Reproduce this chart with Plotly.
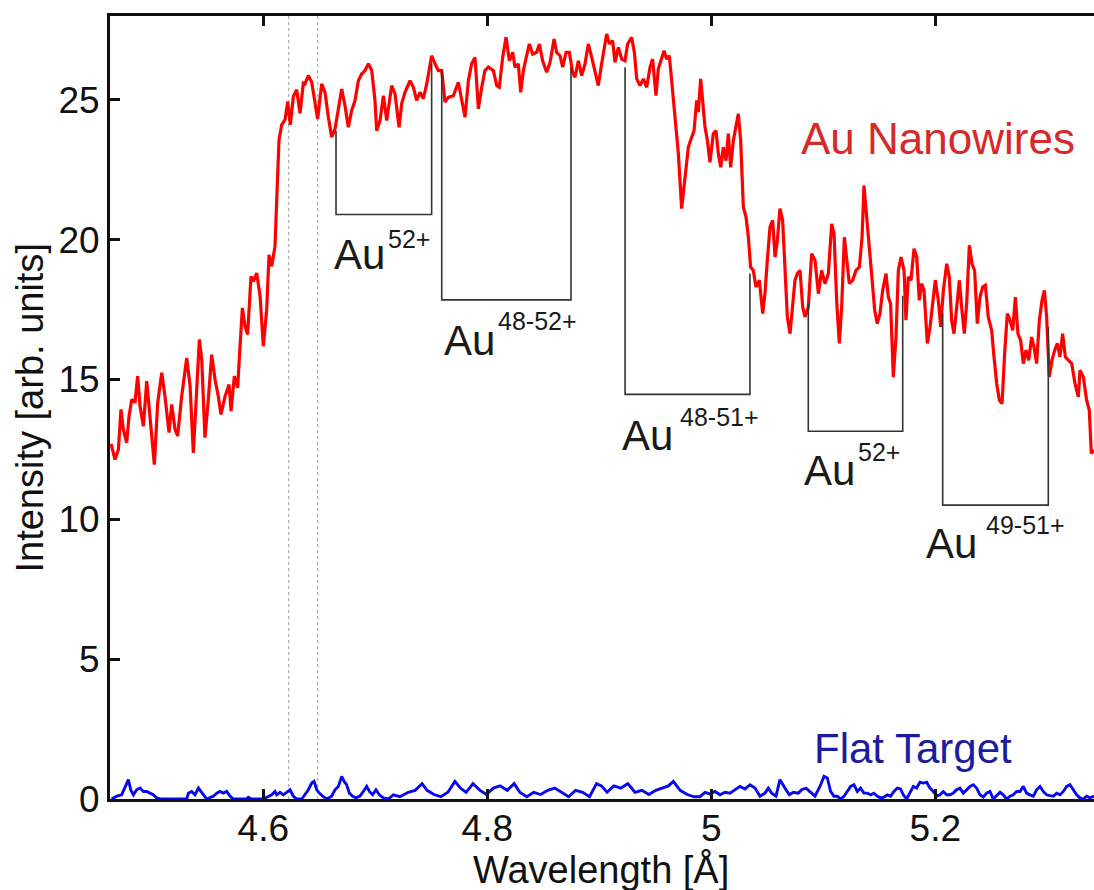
import plotly.graph_objects as go

# ---------------- data ----------------
wavelength_nw = [
    4.4640, 4.4676, 4.4706, 4.4729, 4.4750, 4.4780, 4.4801, 4.4825, 4.4854, 4.4878,
    4.4899, 4.4929, 4.4959, 4.4988, 4.5027, 4.5057, 4.5093, 4.5122, 4.5158, 4.5182,
    4.5212, 4.5235, 4.5271, 4.5316, 4.5346, 4.5375, 4.5405, 4.5429, 4.5450, 4.5479,
    4.5509, 4.5539, 4.5569, 4.5598, 4.5622, 4.5658, 4.5694, 4.5712, 4.5741, 4.5771,
    4.5792, 4.5813, 4.5837, 4.5860, 4.5890, 4.5911, 4.5941, 4.5971, 4.6000, 4.6030,
    4.6051, 4.6075, 4.6104, 4.6119, 4.6140, 4.6164, 4.6194, 4.6218, 4.6241, 4.6268,
    4.6298, 4.6328, 4.6357,
    4.6372, 4.6402, 4.6432, 4.6462, 4.6485, 4.6521, 4.6551, 4.6581, 4.6610, 4.6640,
    4.6670, 4.6700, 4.6729, 4.6759, 4.6789, 4.6819, 4.6849, 4.6878, 4.6908, 4.6938,
    4.6968, 4.6997, 4.7012, 4.7042, 4.7072, 4.7102, 4.7146, 4.7176, 4.7212, 4.7235,
    4.7265, 4.7310, 4.7340, 4.7369, 4.7399, 4.7429, 4.7459, 4.7503, 4.7533, 4.7563,
    4.7593, 4.7622, 4.7652, 4.7697, 4.7741, 4.7771, 4.7801, 4.7831, 4.7860, 4.7890,
    4.7920, 4.7950, 4.7979, 4.8009, 4.8054,
    4.8084, 4.8107, 4.8137, 4.8167, 4.8197, 4.8227, 4.8247, 4.8277, 4.8298, 4.8322,
    4.8351, 4.8375, 4.8405, 4.8441, 4.8465, 4.8494, 4.8530, 4.8560, 4.8596, 4.8619,
    4.8649, 4.8673, 4.8703, 4.8732, 4.8762, 4.8783, 4.8813, 4.8843, 4.8872, 4.8902,
    4.8932, 4.8962, 4.8991, 4.9021, 4.9042, 4.9066, 4.9090, 4.9119, 4.9140, 4.9170,
    4.9200, 4.9229, 4.9253, 4.9289, 4.9313, 4.9334, 4.9363, 4.9393, 4.9423, 4.9453,
    4.9476, 4.9506, 4.9527, 4.9557, 4.9578, 4.9601, 4.9625, 4.9646, 4.9676, 4.9706,
    4.9735, 4.9765, 4.9795,
    4.9825, 4.9846, 4.9869, 4.9884, 4.9905, 4.9923, 4.9944, 4.9965, 4.9988, 5.0018,
    5.0042, 5.0063, 5.0084, 5.0107, 5.0131, 5.0152, 5.0173, 5.0197, 5.0221, 5.0241,
    5.0262, 5.0286, 5.0310, 5.0331, 5.0351, 5.0375, 5.0399, 5.0429, 5.0459, 5.0479,
    5.0500, 5.0524, 5.0548, 5.0569, 5.0590, 5.0613, 5.0637, 5.0658, 5.0679, 5.0703,
    5.0726, 5.0747, 5.0768, 5.0792, 5.0816, 5.0837, 5.0866, 5.0896, 5.0926, 5.0956,
    5.0985, 5.1015, 5.1045, 5.1075, 5.1096, 5.1119, 5.1143, 5.1164, 5.1188, 5.1209,
    5.1232, 5.1262, 5.1292, 5.1322,
    5.1346, 5.1363, 5.1387, 5.1411, 5.1435, 5.1459, 5.1482, 5.1506, 5.1530, 5.1560,
    5.1581, 5.1601, 5.1625, 5.1649, 5.1670, 5.1694, 5.1721, 5.1738, 5.1759, 5.1783,
    5.1810, 5.1834, 5.1857, 5.1878, 5.1899, 5.1929, 5.1953, 5.1977, 5.2000, 5.2027,
    5.2048, 5.2072, 5.2102, 5.2125, 5.2146, 5.2167, 5.2191, 5.2215, 5.2235, 5.2259,
    5.2280, 5.2304, 5.2328, 5.2351, 5.2375, 5.2399, 5.2423, 5.2447, 5.2473, 5.2503,
    5.2524, 5.2548, 5.2572, 5.2596, 5.2619, 5.2643, 5.2667, 5.2691, 5.2715, 5.2738,
    5.2762, 5.2786, 5.2810, 5.2834, 5.2860, 5.2881, 5.2905, 5.2929, 5.2953, 5.2974,
    5.2994, 5.3018, 5.3042, 5.3066, 5.3090, 5.3113, 5.3137, 5.3161, 5.3188, 5.3218,
    5.3247, 5.3277, 5.3292, 5.3322, 5.3351, 5.3375, 5.3393, 5.3417,
]
intensity_nw = [
    12.70, 12.14, 12.50, 13.93, 13.21, 12.74, 13.69, 14.29, 14.17, 15.12,
    14.05, 13.33, 14.94, 13.57, 11.96, 14.17, 15.24, 14.40, 13.10, 14.11,
    13.21, 12.98, 14.40, 15.77, 14.76, 12.38, 14.40, 16.43, 15.71, 12.92,
    14.29, 15.89, 15.00, 14.40, 13.75, 14.40, 14.82, 13.87, 15.12, 14.70,
    16.19, 17.56, 16.90, 16.61, 18.69, 18.51, 18.81, 17.98, 16.19, 17.50,
    19.46, 19.05, 19.76, 21.67, 23.57, 24.11, 24.29, 24.94, 24.11, 25.12,
    25.36, 24.52, 25.60,
    25.57, 25.87, 25.63, 24.86, 24.32, 25.57, 25.27, 24.38, 23.67, 23.96,
    24.74, 25.39, 24.80, 24.02, 24.62, 24.98, 25.69, 25.93, 26.05, 26.29,
    26.05, 24.98, 23.90, 24.26, 25.15, 24.26, 25.51, 25.21, 24.02, 24.86,
    25.27, 25.69, 25.45, 24.98, 25.27, 25.04, 25.57, 26.58, 26.29, 26.05,
    26.05, 24.92, 25.09, 25.15, 25.63, 24.98, 24.38, 25.69, 26.29, 26.52,
    24.68, 25.45, 26.05, 26.17, 26.05,
    25.51, 25.45, 26.52, 27.24, 26.40, 26.70, 26.17, 26.29, 25.27, 26.05,
    26.58, 27.00, 26.64, 26.70, 27.00, 26.40, 25.99, 26.34, 27.18, 26.70,
    26.58, 26.17, 26.70, 26.70, 25.99, 25.81, 26.40, 25.87, 26.29, 27.00,
    26.52, 26.05, 25.51, 26.29, 26.76, 27.36, 27.00, 27.12, 26.34, 26.88,
    26.46, 26.40, 27.00, 27.24, 26.70, 25.75, 25.51, 25.75, 25.45, 26.17,
    26.46, 25.15, 26.11, 26.52, 26.76, 26.46, 26.58, 25.69, 24.26, 23.07,
    21.11, 22.12, 23.31,
    23.67, 23.90, 24.98, 24.56, 25.75, 24.86, 24.02, 23.55, 22.77, 23.79,
    23.90, 23.07, 22.59, 23.31, 22.83, 23.79, 22.59, 23.55, 24.02, 24.50,
    23.55, 21.17, 20.81, 20.09, 19.02, 18.90, 18.31, 18.55, 17.36, 18.07,
    19.26, 20.45, 20.69, 19.38, 19.98, 21.11, 20.69, 18.90, 17.24, 16.64,
    17.71, 18.55, 18.79, 18.90, 17.59, 17.24, 17.59, 19.50, 19.26, 18.07,
    18.90, 18.43, 18.79, 20.57, 20.21, 17.83, 16.29, 17.59, 20.09, 19.38,
    18.43, 18.55, 18.90, 19.02,
    20.09, 21.94, 20.81, 19.50, 18.55, 17.48, 17.00, 17.36, 18.19, 18.79,
    17.95, 17.71, 15.09, 16.52, 18.90, 19.38, 18.90, 17.12, 18.67, 18.55,
    19.68, 19.38, 17.83, 18.43, 18.19, 16.29, 16.88, 17.71, 18.55, 17.83,
    16.88, 18.19, 19.14, 18.67, 17.12, 16.64, 17.71, 18.55, 17.59, 16.64,
    17.71, 19.80, 19.14, 18.90, 17.00, 17.95, 18.31, 18.37, 17.24, 16.76,
    15.81, 14.86, 14.26, 14.14, 15.93, 17.36, 17.12, 16.76, 17.95, 16.64,
    16.40, 15.57, 16.05, 15.69, 16.52, 16.17, 15.57, 17.12, 17.83, 18.19,
    17.24, 15.09, 15.69, 16.05, 16.29, 15.81, 16.64, 15.81, 15.69, 15.57,
    14.86, 14.38, 15.33, 15.09, 14.26, 13.90, 12.36, 12.48,
]

wavelength_flat = [
    4.4646, 4.4691, 4.4735, 4.4765, 4.4795, 4.4816, 4.4840, 4.4869, 4.4899, 4.4929,
    4.4959, 4.4988, 4.5018, 4.5048, 4.5078, 4.5316, 4.5331, 4.5360, 4.5390, 4.5420,
    4.5441, 4.5465, 4.5494, 4.5554, 4.5584, 4.5613, 4.5643, 4.5673, 4.5703, 4.5732,
    4.5851, 4.5866, 4.5896, 4.6000, 4.6045, 4.6075, 4.6104, 4.6119, 4.6149, 4.6179,
    4.6209, 4.6238, 4.6268, 4.6298, 4.6343, 4.6372, 4.6402, 4.6432, 4.6453, 4.6477,
    4.6500, 4.6530, 4.6566, 4.6610, 4.6640, 4.6670, 4.6700, 4.6721, 4.6744, 4.6768,
    4.6798, 4.6828, 4.6863, 4.6893, 4.6923, 4.6947, 4.6976, 4.7006, 4.7036, 4.7072,
    4.7116, 4.7161, 4.7206,
    4.7219, 4.7294, 4.7355, 4.7418, 4.7462, 4.7524, 4.7586, 4.7648, 4.7711, 4.7761,
    4.7811, 4.7872, 4.7935, 4.7991, 4.8054, 4.8115, 4.8178, 4.8240, 4.8290, 4.8353,
    4.8414, 4.8477, 4.8539, 4.8602, 4.8663, 4.8726, 4.8788, 4.8851, 4.8913, 4.8975,
    4.9019, 4.9069, 4.9131, 4.9193, 4.9255, 4.9318, 4.9380, 4.9443, 4.9504, 4.9567,
    4.9617, 4.9661, 4.9722, 4.9785, 4.9847, 4.9897,
    4.9944, 4.9988, 5.0033, 5.0078, 5.0122, 5.0167, 5.0212, 5.0256, 5.0301, 5.0346,
    5.0390, 5.0435, 5.0479, 5.0509, 5.0539, 5.0578, 5.0613, 5.0637, 5.0667, 5.0696,
    5.0732, 5.0777, 5.0807, 5.0845, 5.0881, 5.0926, 5.0970, 5.1006, 5.1036, 5.1065,
    5.1095, 5.1125, 5.1155, 5.1185, 5.1214, 5.1244, 5.1274, 5.1304, 5.1333, 5.1363,
    5.1393, 5.1423, 5.1452, 5.1482, 5.1512, 5.1542, 5.1571, 5.1601, 5.1631, 5.1661,
    5.1690, 5.1714, 5.1744, 5.1774, 5.1804, 5.1833, 5.1863, 5.1893, 5.1923, 5.1952,
    5.1982, 5.2012, 5.2042, 5.2071, 5.2101, 5.2131, 5.2161, 5.2190, 5.2220, 5.2250,
    5.2280, 5.2310, 5.2339, 5.2369, 5.2399, 5.2429, 5.2458, 5.2488, 5.2518, 5.2548,
    5.2578, 5.2607, 5.2637, 5.2667, 5.2696, 5.2726, 5.2756, 5.2786, 5.2815, 5.2845,
    5.2875, 5.2905, 5.2935, 5.2964, 5.2994, 5.3024, 5.3054, 5.3083, 5.3113, 5.3143,
    5.3173, 5.3202, 5.3232, 5.3262, 5.3292, 5.3321, 5.3351, 5.3381, 5.3417,
]
intensity_flat = [
    0.00, 0.10, 0.15, 0.45, 0.69, 0.33, 0.15, 0.33, 0.39, 0.27,
    0.27, 0.21, 0.15, 0.04, 0.00, 0.00, 0.21, 0.27, 0.15, 0.39,
    0.27, 0.15, 0.00, 0.10, 0.21, 0.27, 0.21, 0.27, 0.10, 0.00,
    0.00, 0.06, 0.00, 0.00, 0.10, 0.15, 0.27, 0.15, 0.24, 0.15,
    0.24, 0.33, 0.10, 0.00, 0.00, 0.15, 0.33, 0.57, 0.63, 0.33,
    0.21, 0.10, 0.00, 0.10, 0.33, 0.45, 0.81, 0.63, 0.51, 0.21,
    0.10, 0.04, 0.10, 0.27, 0.45, 0.27, 0.15, 0.33, 0.15, 0.04,
    0.00, 0.15, 0.10,
    0.08, 0.24, 0.31, 0.55, 0.31, 0.16, 0.08, 0.24, 0.63, 0.39,
    0.24, 0.55, 0.31, 0.16, 0.39, 0.47, 0.31, 0.55, 0.24, 0.08,
    0.24, 0.16, 0.31, 0.39, 0.24, 0.08, 0.31, 0.24, 0.08, 0.55,
    0.47, 0.24, 0.47, 0.39, 0.55, 0.24, 0.31, 0.16, 0.31, 0.39,
    0.47, 0.63, 0.31, 0.16, 0.08, 0.08,
    0.24, 0.18, 0.27, 0.15, 0.24, 0.21, 0.33, 0.45, 0.36, 0.51,
    0.39, 0.10, 0.21, 0.39, 0.21, 0.10, 0.69, 0.51, 0.33, 0.15,
    0.24, 0.21, 0.33, 0.39, 0.27, 0.10, 0.45, 0.81, 0.75, 0.27,
    0.10, 0.10, 0.00, 0.10, 0.27, 0.45, 0.51, 0.27, 0.39, 0.21,
    0.21, 0.15, 0.21, 0.10, 0.04, 0.07, 0.15, 0.10, 0.27, 0.39,
    0.36, 0.15, 0.00, 0.21, 0.45, 0.39, 0.60, 0.57, 0.60, 0.39,
    0.27, 0.10, 0.15, 0.27, 0.15, 0.15, 0.21, 0.33, 0.39, 0.21,
    0.33, 0.45, 0.51, 0.39, 0.15, 0.07, 0.21, 0.27, 0.00, 0.12,
    0.24, 0.15, 0.00, 0.10, 0.15, 0.27, 0.27, 0.45, 0.21, 0.15,
    0.10, 0.33, 0.45, 0.27, 0.15, 0.12, 0.10, 0.21, 0.15, 0.27,
    0.45, 0.51, 0.33, 0.15, 0.04, 0.00, 0.10, 0.04, 0.10,
]

x_ticks = [4.6, 4.8, 5.0, 5.2]
x_tick_labels = ["4.6", "4.8", "5", "5.2"]
y_ticks = [0, 5, 10, 15, 20, 25]
x_range = [4.4631, 5.3417]
y_range = [0, 28]

# dotted reference wavelengths
reference_lines = [4.6227, 4.6486]

# ion-line group brackets
bracket_left = [4.6649, 4.7593, 4.9230, 5.0866, 5.2066]
bracket_right = [4.7503, 4.8747, 5.0345, 5.1709, 5.3009]
bracket_bottom = [20.90, 17.85, 14.47, 13.15, 10.51]
bracket_top_left = [23.90, 26.05, 26.17, 17.71, 17.36]
bracket_top_right = [26.30, 26.17, 18.79, 18.00, 16.88]
bracket_charge = ["52+", "48-52+", "48-51+", "52+", "49-51+"]

# label anchors (data coords): "Au" text and superscript
label_au_pos = [(4.6622, 19.47), (4.7604, 16.41), (4.9191, 13.01), (5.0816, 11.76), (5.1908, 9.14)]
label_sup_pos = [(4.7102, 20.03), (4.8087, 17.08), (4.9712, 13.66), (5.1298, 12.41), (5.2444, 9.80)]

FONT = "Liberation Sans, Arial, Helvetica, sans-serif"

fig = go.Figure()

fig.add_trace(go.Scatter(
    x=wavelength_nw, y=intensity_nw, mode="lines",
    line=dict(color="#ff0000", width=3.2), name="Au Nanowires", showlegend=False,
))
fig.add_trace(go.Scatter(
    x=wavelength_flat, y=intensity_flat, mode="lines",
    line=dict(color="#0808ee", width=2.9), name="Flat Target", showlegend=False,
))

for xl, xr, yb, ytl, ytr in zip(bracket_left, bracket_right, bracket_bottom,
                                 bracket_top_left, bracket_top_right):
    fig.add_trace(go.Scatter(
        x=[xl, xl, xr, xr], y=[ytl, yb, yb, ytr], mode="lines",
        line=dict(color="#333333", width=1.6), showlegend=False, hoverinfo="skip",
    ))

shapes = []
for xv in reference_lines:
    shapes.append(dict(type="line", xref="x", yref="paper", x0=xv, x1=xv, y0=0, y1=1,
                       line=dict(color="#9a9a9a", width=1, dash="dot"), layer="below"))

annotations = []
for (ax, ay), (sx, sy), ch in zip(label_au_pos, label_sup_pos, bracket_charge):
    annotations.append(dict(x=ax, y=ay, xref="x", yref="y", text="Au", showarrow=False,
                            xanchor="left", yanchor="middle", borderpad=0,
                            font=dict(family=FONT, size=42, color="#1a1a1a")))
    annotations.append(dict(x=sx, y=sy, xref="x", yref="y", text=ch, showarrow=False,
                            xanchor="left", yanchor="middle", borderpad=0,
                            font=dict(family=FONT, size=25, color="#1a1a1a")))

annotations.append(dict(x=5.0792, y=23.62, xref="x", yref="y", text="Au Nanowires",
                        showarrow=False, xanchor="left", yanchor="middle", borderpad=0,
                        font=dict(family=FONT, size=44, color="#d42a2a")))
annotations.append(dict(x=5.0905, y=1.80, xref="x", yref="y", text="Flat Target",
                        showarrow=False, xanchor="left", yanchor="middle", borderpad=0,
                        font=dict(family=FONT, size=42, color="#1c1c9e")))

# axis titles as annotations (precise placement)
annotations.append(dict(x=0.4985, y=-0.0905, xref="paper", yref="paper",
                        text="Wavelength [Å]", showarrow=False,
                        xanchor="center", yanchor="middle", borderpad=0,
                        font=dict(family=FONT, size=38, color="#111111")))
annotations.append(dict(x=-0.0823, y=0.5, xref="paper", yref="paper",
                        text="Intensity [arb. units]", showarrow=False, textangle=-90,
                        xanchor="center", yanchor="middle", borderpad=0,
                        font=dict(family=FONT, size=38, color="#111111")))

fig.update_layout(
    width=1094, height=890,
    margin=dict(l=110, r=0, t=16, b=91, autoexpand=False),
    paper_bgcolor="white", plot_bgcolor="white",
    shapes=shapes, annotations=annotations,
    font=dict(family=FONT, color="#111111"),
    xaxis=dict(
        range=x_range, tickmode="array", tickvals=x_ticks, ticktext=x_tick_labels,
        ticks="inside", ticklen=10, tickwidth=3, tickcolor="#111111",
        showline=True, linewidth=3, linecolor="#111111", mirror="ticks",
        showgrid=False, zeroline=False, automargin=False, ticklabelstandoff=-5,
        tickfont=dict(family=FONT, size=37, color="#111111"),
    ),
    yaxis=dict(
        range=y_range, tickmode="array", tickvals=y_ticks,
        ticks="inside", ticklen=10, tickwidth=3, tickcolor="#111111",
        showline=True, linewidth=3, linecolor="#111111", mirror=False,
        showgrid=False, zeroline=False, automargin=False,
        tickfont=dict(family=FONT, size=37, color="#111111"),
    ),
)

fig.write_html(
    "out.html",
    config={"displayModeBar": False},
    post_script="document.body.style.margin='0px';document.body.style.overflow='hidden';",
)
